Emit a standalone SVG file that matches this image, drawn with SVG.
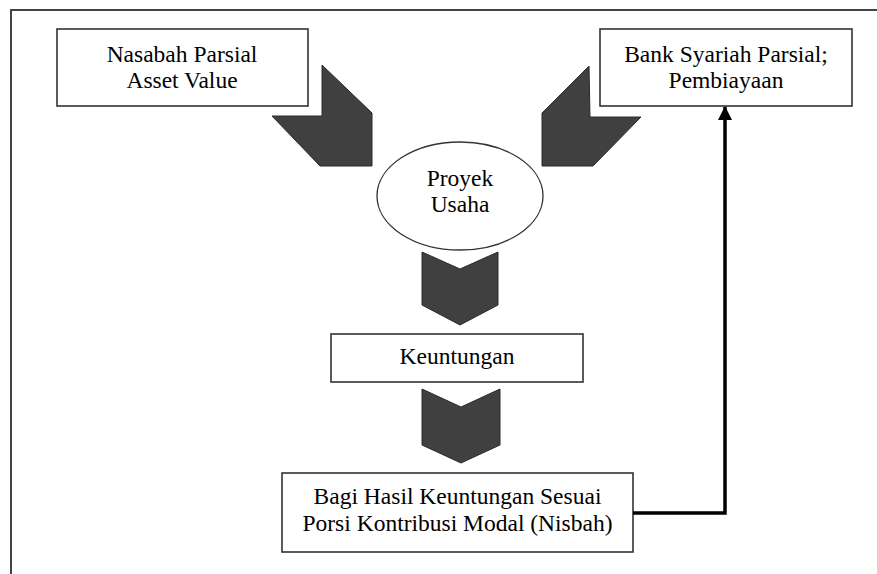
<svg xmlns="http://www.w3.org/2000/svg" width="877" height="574" viewBox="0 0 877 574">
  <style>
    .box { fill: #ffffff; stroke: #333333; stroke-width: 1.6; }
    .chev { fill: #404040; stroke: #2a2a2a; stroke-width: 1; stroke-linejoin: miter; }
    .lbl { font-size: 23.5px; fill: #000000; text-anchor: middle; }
    .frame { stroke: #444444; stroke-width: 2; fill: none; }
  </style>
  <defs>
    <marker id="arrowHead" markerWidth="14" markerHeight="14" viewBox="0 0 14 14" refX="13" refY="7" orient="auto" markerUnits="userSpaceOnUse">
      <path d="M0,0 L14,7 L0,14 Z" fill="#000000"/>
    </marker>
  </defs>

  <rect width="877" height="574" fill="#ffffff"/>

  <!-- outer frame: top and left edges -->
  <path class="frame" d="M11,574 L11,10 L877,10"/>

  <!-- big dark chevrons -->
  <g id="chevron-left">
    <polygon class="chev" points="322,65 372,113 372,166 320,166 272,116 322,116"/>
  </g>
  <g id="chevron-right">
    <polygon class="chev" points="589,66 590,117 641,117 593,166 542,166 542,113"/>
  </g>
  <g id="chevron-down-1">
    <polygon class="chev" points="422,252 460,269 498,252 498,305 460,325 422,305"/>
  </g>
  <g id="chevron-down-2">
    <polygon class="chev" points="422,389 461,407 500,389 500,445 461,463 422,445"/>
  </g>

  <g font-family="'Liberation Serif', 'DejaVu Serif', serif">
    <g id="nasabah">
      <rect class="box" x="57" y="29" width="251" height="77"/>
      <text class="lbl" x="182" y="62">Nasabah Parsial</text>
      <text class="lbl" x="182" y="88">Asset Value</text>
    </g>

    <g id="bank">
      <rect class="box" x="600" y="29" width="252" height="77"/>
      <text class="lbl" x="726" y="62">Bank Syariah Parsial;</text>
      <text class="lbl" x="726" y="88">Pembiayaan</text>
    </g>

    <g id="proyek">
      <ellipse cx="460" cy="196" rx="83" ry="54" fill="#ffffff" stroke="#333333" stroke-width="1.3"/>
      <text class="lbl" x="460" y="186">Proyek</text>
      <text class="lbl" x="460" y="212">Usaha</text>
    </g>

    <g id="keuntungan">
      <rect class="box" x="331" y="334" width="252" height="48"/>
      <text class="lbl" x="457" y="364">Keuntungan</text>
    </g>

    <g id="bagi-hasil">
      <rect class="box" x="282" y="473" width="351" height="79"/>
      <text class="lbl" x="457.5" y="504">Bagi Hasil Keuntungan Sesuai</text>
      <text class="lbl" x="457.5" y="531">Porsi Kontribusi Modal (Nisbah)</text>
    </g>
  </g>

  <g id="connectors">
    <path d="M633,513 L725,513 L725,107" fill="none" stroke="#000000" stroke-width="3.5" stroke-linejoin="miter" marker-end="url(#arrowHead)"/>
  </g>
</svg>
